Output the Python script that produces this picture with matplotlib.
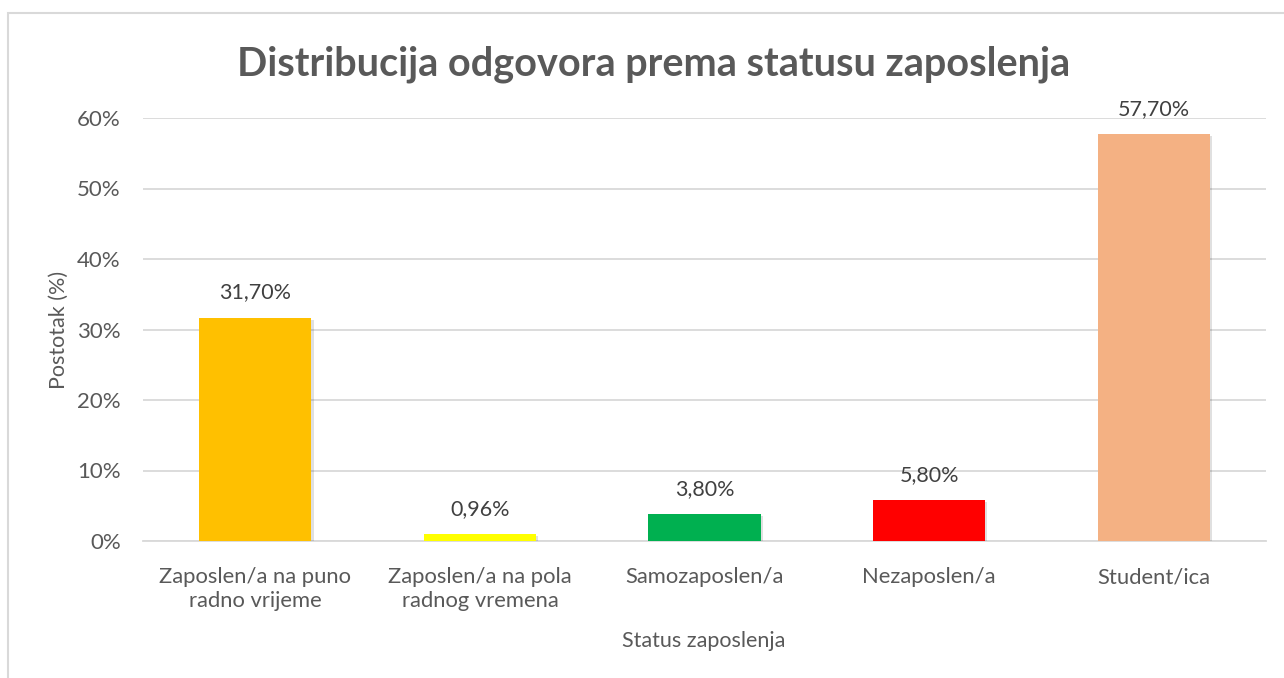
import matplotlib
matplotlib.use("Agg")
import matplotlib.pyplot as plt
import matplotlib.ticker as ticker
import matplotlib.patheffects as pe
from matplotlib.patches import Rectangle

plt.rcParams['font.family'] = ['Lato', 'DejaVu Sans']

# ============================================================================
# DATA
# ============================================================================

categories = [
    "Zaposlen/a na puno\nradno vrijeme",
    "Zaposlen/a na pola\nradnog vremena",
    "Samozaposlen/a",
    "Nezaposlen/a",
    "Student/ica",
]
shares = [31.70, 0.96, 3.80, 5.80, 57.70]
value_labels = ["31,70%", "0,96%", "3,80%", "5,80%", "57,70%"]
bar_colors = ["#FFC000", "#FFFF00", "#00B050", "#FF0000", "#F4B183"]
y_ticks = [0, 10, 20, 30, 40, 50, 60]

# ============================================================================
# PLOT
# ============================================================================

text_col = "#595959"
grid_col = "#D9D9D9"

W, H = 1284, 678
fig = plt.figure(figsize=(W / 100, H / 100), dpi=100)
ax = fig.add_axes([143 / W, 1 - 541 / H, (1266 - 143) / W, (541 - 118) / H])

x = list(range(len(categories)))
bars = ax.bar(x, shares, width=0.5, color=bar_colors, zorder=3, linewidth=0)
for b in bars:
    b.set_path_effects([pe.SimplePatchShadow(offset=(1.5, -1.5), shadow_rgbFace="#000000", alpha=0.12),
                        pe.Normal()])

for xi, v, lab in zip(x, shares, value_labels):
    ax.annotate(lab, (xi, v), xytext=(0, 11), textcoords="offset points",
                ha="center", va="bottom", fontsize=15.5, color="#404040")

ax.set_xlim(-0.5, len(categories) - 0.5)
ax.set_ylim(0, 60)
ax.set_yticks(y_ticks)
ax.yaxis.set_major_formatter(ticker.FuncFormatter(lambda v, _: f"{v:.0f}%"))
ax.set_xticks(x)
ax.set_xticklabels(categories, fontsize=15.8, color=text_col, linespacing=1.2)
ax.tick_params(axis="y", labelsize=16, labelcolor=text_col, length=0, pad=16)
ax.tick_params(axis="x", length=0, pad=19)

ax.grid(axis="y", color=grid_col, linewidth=1.3, zorder=0)
for s in ["top", "right", "left"]:
    ax.spines[s].set_visible(False)
ax.spines["bottom"].set_color(grid_col)
ax.spines["bottom"].set_linewidth(1.3)

# axis titles
fig.text(59 / W, 1 - 330 / H, "Postotak (%)", rotation=90, ha="center", va="center",
         fontsize=15.5, color=text_col)
fig.text(704 / W, 1 - 641 / H, "Status zaposlenja", ha="center", va="center",
         fontsize=15.5, color=text_col)

fig.text(0.5 * (235 + 1072) / W, 1 - 64 / H, "Distribucija odgovora prema statusu zaposlenja",
         ha="center", va="center", fontsize=28.5, fontweight="bold", color=text_col)

# chart area border (cropped at right and bottom)
fig.patches.append(Rectangle((8 / W, -0.1), 1.2, 1 - 13 / H + 0.1, transform=fig.transFigure,
                             fill=False, edgecolor="#D9D9D9", linewidth=1.5))

fig.savefig("out.png", dpi=100)
plt.close(fig)
